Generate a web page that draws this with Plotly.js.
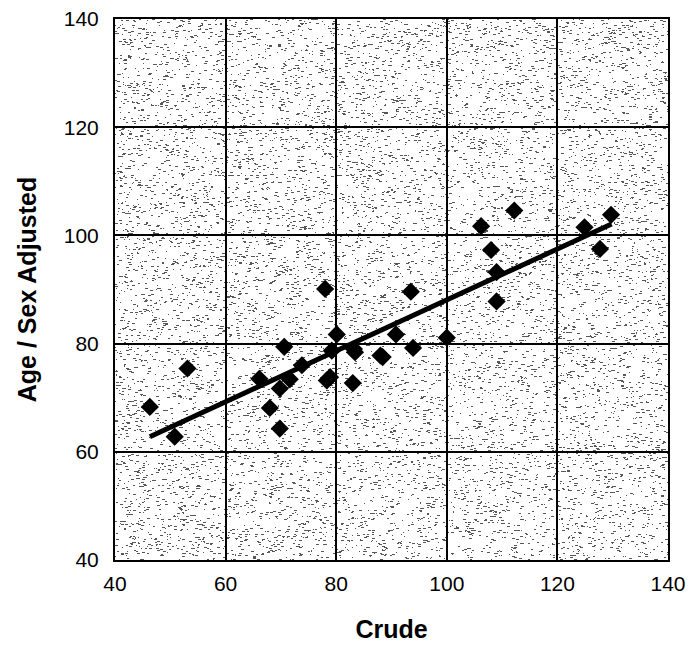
<!DOCTYPE html>
<html>
<head>
<meta charset="utf-8">
<script src="https://cdn.plot.ly/plotly-3.0.1.min.js"></script>
<style>html,body{margin:0;padding:0;background:#fff;}#chart{width:689px;height:645px;}</style>
</head>
<body>
<div id="chart"></div>
<script>
// Data
const crude = [46.3, 50.8, 53.1, 66.1, 68.0, 69.8, 69.8, 70.6, 71.6, 73.8, 78.0, 78.3, 78.9, 79.2, 80.1,
               83.0, 83.4, 83.2, 88.4, 88.0, 90.8, 93.5, 93.9, 100.0, 106.2, 108.0, 109.0, 109.0, 112.2,
               124.9, 127.7, 129.7];
const adjusted = [68.3, 62.8, 75.4, 73.5, 68.1, 71.7, 64.3, 79.4, 73.4, 76.0, 90.1, 73.2, 73.8, 78.7, 81.7,
                  72.7, 78.4, 79.0, 77.5, 77.8, 81.7, 89.6, 79.2, 81.1, 101.7, 97.3, 93.2, 87.8, 104.6,
                  101.5, 97.5, 103.8];
const trendX = [46.3, 129.8];
const trendY = [62.8, 102.1];
const xTicks = [40, 60, 80, 100, 120, 140];
const yTicks = [40, 60, 80, 100, 120, 140];

// stipple texture for the plot background (decorative)
function makeTexture(w, h) {
  const c = document.createElement('canvas');
  c.width = w; c.height = h;
  const ctx = c.getContext('2d');
  ctx.fillStyle = '#ffffff';
  ctx.fillRect(0, 0, w, h);
  let s = 12345;
  const rnd = () => { s = (s * 1103515245 + 12345) & 0x7fffffff; return s / 0x7fffffff; };
  ctx.fillStyle = '#111';
  for (let i = 0; i < w * h * 0.09; i++) {
    const x = rnd() * w, y = rnd() * h;
    const len = 1 + Math.floor(rnd() * 3);
    ctx.fillRect(Math.floor(x), Math.floor(y), len, 1);
  }
  return c.toDataURL('image/png');
}
const tex = makeTexture(553, 541);

const font = {family: 'Liberation Sans, Arial, sans-serif', color: '#000'};

const data = [
  {
    x: crude, y: adjusted, type: 'scatter', mode: 'markers',
    marker: {symbol: 'diamond', size: 14, color: '#000', line: {width: 0}},
    hoverinfo: 'x+y'
  },
  {
    x: trendX, y: trendY, type: 'scatter', mode: 'lines',
    line: {color: '#000', width: 5},
    hoverinfo: 'skip'
  }
];

const layout = {
  width: 689, height: 645,
  margin: {l: 115, r: 21, t: 19, b: 85},
  paper_bgcolor: '#fff',
  plot_bgcolor: '#fff',
  showlegend: false,
  xaxis: {
    range: [40, 140], tickvals: xTicks, ticktext: xTicks.map(String),
    showgrid: true, gridcolor: '#000', gridwidth: 2,
    zeroline: false, showline: true, linecolor: '#000', linewidth: 2, mirror: true,
    ticks: '', ticklen: 0, ticklabelstandoff: 4,
    tickfont: Object.assign({size: 21}, font),
    title: {text: '<b>Crude</b>', font: Object.assign({size: 25}, font), standoff: 26}
  },
  yaxis: {
    range: [40, 140], tickvals: yTicks, ticktext: yTicks.map(String),
    showgrid: true, gridcolor: '#000', gridwidth: 2,
    zeroline: false, showline: true, linecolor: '#000', linewidth: 2, mirror: true,
    ticks: '', ticklen: 0, ticklabelstandoff: 10,
    tickfont: Object.assign({size: 21}, font),
    title: {text: '<b>Age / Sex Adjusted</b>', font: Object.assign({size: 25}, font), standoff: 20}
  },
  images: [{
    source: tex, xref: 'paper', yref: 'paper', x: 0, y: 1, sizex: 1, sizey: 1,
    sizing: 'stretch', layer: 'below', opacity: 0.7
  }]
};

Plotly.newPlot('chart', data, layout, {displayModeBar: false, staticPlot: true});
</script>
</body>
</html>
